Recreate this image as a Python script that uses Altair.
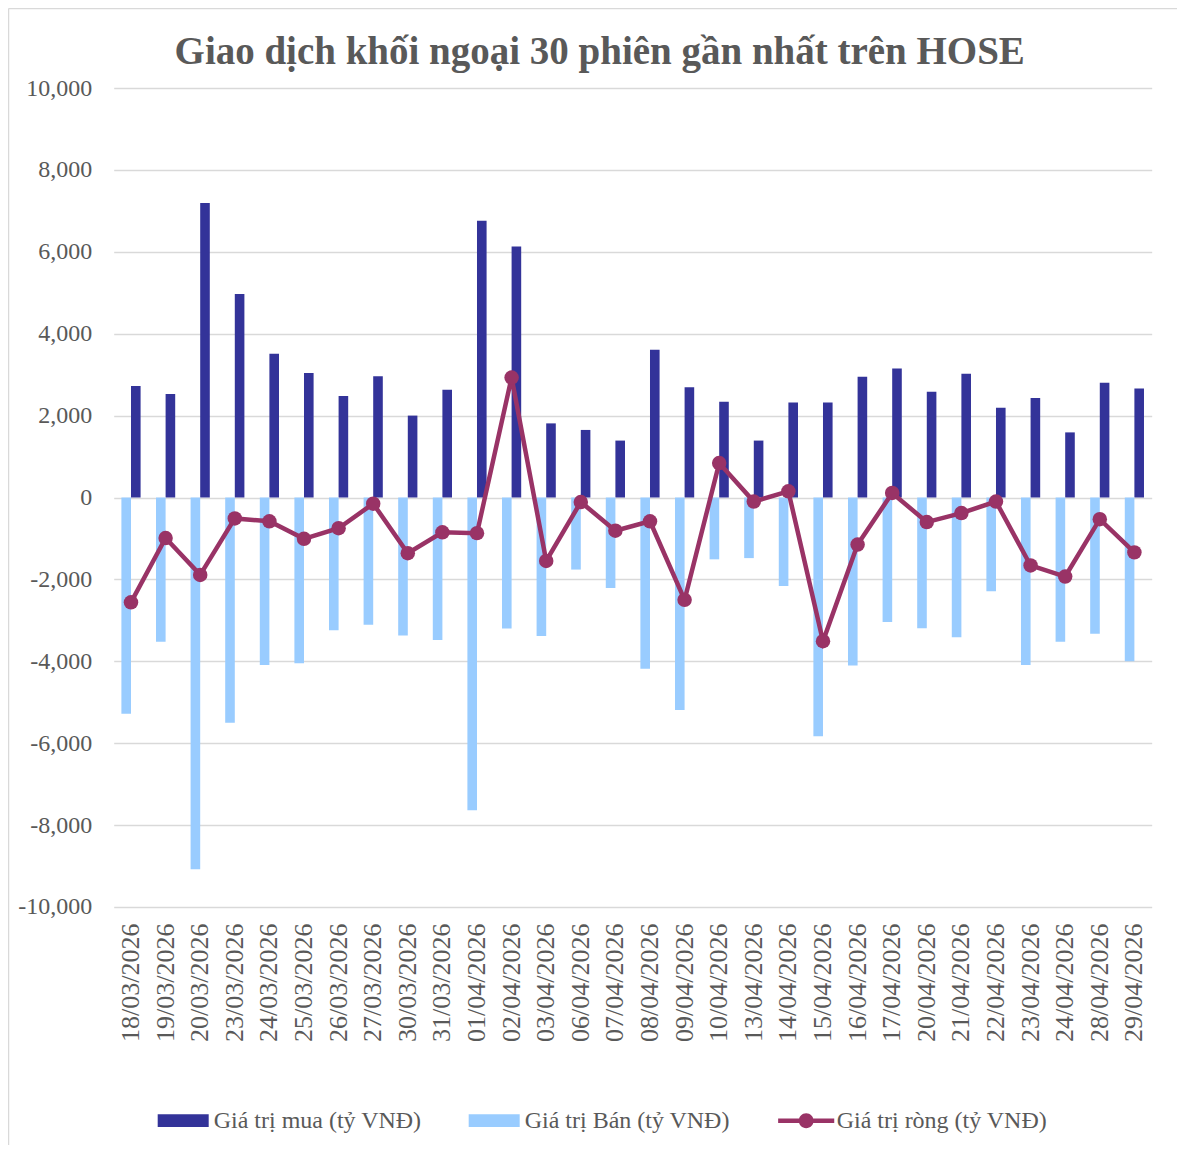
import altair as alt
import pandas as pd

dates = ["18/03/2026", "19/03/2026", "20/03/2026", "23/03/2026", "24/03/2026",
         "25/03/2026", "26/03/2026", "27/03/2026", "30/03/2026", "31/03/2026",
         "01/04/2026", "02/04/2026", "03/04/2026", "06/04/2026", "07/04/2026",
         "08/04/2026", "09/04/2026", "10/04/2026", "13/04/2026", "14/04/2026",
         "15/04/2026", "16/04/2026", "17/04/2026", "20/04/2026", "21/04/2026",
         "22/04/2026", "23/04/2026", "24/04/2026", "28/04/2026", "29/04/2026"]
buy = [2720, 2530, 7190, 4970, 3510, 3040, 2480, 2960, 2000, 2630,
       6760, 6130, 1810, 1650, 1390, 3610, 2690, 2340, 1390, 2320,
       2320, 2950, 3150, 2580, 3020, 2190, 2430, 1590, 2800, 2660]
sell = [-5280, -3520, -9080, -5500, -4090, -4050, -3240, -3110, -3370, -3480,
        -7640, -3200, -3380, -1760, -2210, -4180, -5190, -1510, -1480, -2160,
        -5830, -4100, -3040, -3190, -3410, -2290, -4090, -3520, -3330, -4000]
net = [-2560, -990, -1890, -510, -580, -1010, -750, -150, -1360, -850,
       -870, 2930, -1550, -110, -810, -580, -2500, 840, -100, 150,
       -3510, -1150, 110, -600, -380, -100, -1660, -1930, -530, -1340]

S_BUY = "Giá trị mua (tỷ VNĐ)"
S_SELL = "Giá trị Bán (tỷ VNĐ)"
S_NET = "Giá trị ròng (tỷ VNĐ)"
series_names = [S_BUY, S_SELL, S_NET]
series_colors = ["#333399", "#99CCFF", "#993366"]
y_ticks = list(range(-10000, 10001, 2000))
TITLE = "Giao dịch khối ngoại 30 phiên gần nhất trên HOSE"

bars_df = pd.DataFrame({
    "date": dates * 2,
    "series": [S_BUY] * len(dates) + [S_SELL] * len(dates),
    "value": buy + sell,
})
net_df = pd.DataFrame({"date": dates, "series": [S_NET] * len(dates), "value": net})
legend_df = pd.DataFrame({"series": pd.Series([], dtype=str)})

FONT = "Liberation Serif"
GREY = "#595959"
GRID = "#d9d9d9"

RECT = "M-1,-0.25L1,-0.25L1,0.25L-1,0.25Z"
LINEDOT = ("M-1.1,-0.09L1.1,-0.09L1.1,0.09L-1.1,0.09Z "
           "M0.29,0A0.29,0.29 0 1,1 -0.29,0A0.29,0.29 0 1,1 0.29,0Z")

color_scale = alt.Scale(domain=series_names, range=series_colors)
shape_scale = alt.Scale(domain=series_names, range=[RECT, RECT, LINEDOT])

legend = alt.Legend(
    title=None, orient="none", legendX=44, legendY=1007, direction="horizontal",
    columnPadding=47, labelFont=FONT, labelFontSize=24, labelColor=GREY,
    labelOffset=5, symbolSize=2601, symbolStrokeWidth=0, symbolOpacity=1,
    labelLimit=400,
)

x_enc = alt.X(
    "date:N", sort=dates, title=None,
    scale=alt.Scale(paddingInner=0.445, paddingOuter=0.2225),
    axis=alt.Axis(labelAngle=-90, labelFont=FONT, labelFontSize=26,
                  labelColor=GREY, labelPadding=16, ticks=False, domain=False,
                  grid=False),
)
y_enc = alt.Y(
    "value:Q", title=None,
    scale=alt.Scale(domain=[-10000, 10000], nice=False),
    axis=alt.Axis(values=y_ticks,
                  labelExpr="(datum.value < 0 ? '-' : '') + format(abs(datum.value), ',d')",
                  labelFont=FONT, labelFontSize=24,
                  labelColor=GREY, labelPadding=22, ticks=False, domain=False,
                  gridColor=GRID, gridWidth=1.3),
)

bars = alt.Chart(bars_df).mark_bar().encode(
    x=x_enc,
    xOffset=alt.XOffset("series:N", sort=[S_SELL, S_BUY],
                        scale=alt.Scale(domain=[S_SELL, S_BUY], paddingInner=0, paddingOuter=0)),
    y=y_enc,
    color=alt.Color("series:N", scale=color_scale, legend=legend),
)

line = alt.Chart(net_df).mark_line(strokeWidth=4.5, color="#993366").encode(
    x=x_enc, y=y_enc,
)
dots = alt.Chart(net_df).mark_circle(size=210, opacity=1, color="#993366").encode(
    x=x_enc, y=y_enc,
)

legend_layer = alt.Chart(legend_df).mark_point(filled=True, opacity=1).encode(
    color=alt.Color("series:N", scale=color_scale, legend=legend),
    shape=alt.Shape("series:N", scale=shape_scale, legend=legend),
)

border_df = pd.DataFrame({"k": [0]})
border_left = alt.Chart(border_df).mark_rule(color=GRID, strokeWidth=1.5).encode(
    x=alt.value(-105.2), y=alt.value(-79.5), y2=alt.value(1070),
)
border_top = alt.Chart(border_df).mark_rule(color=GRID, strokeWidth=1.5).encode(
    x=alt.value(-105.2), x2=alt.value(1080), y=alt.value(-79.5),
)

chart = alt.layer(bars, line, dots, legend_layer, border_left, border_top).properties(
    width=1038, height=819,
    autosize=alt.AutoSizeParams(type="none"),
    padding={"left": 105.7, "top": 80, "right": 25, "bottom": 238},
    title=alt.TitleParams(TITLE, font=FONT, fontSize=39, fontWeight="bold",
                          color=GREY, anchor="middle", frame="group",
                          offset=0, dx=-33, dy=64),
).configure(background="white").configure_view(stroke=None)

chart.save("out.html", embed_options={"renderer": "svg", "actions": False})
